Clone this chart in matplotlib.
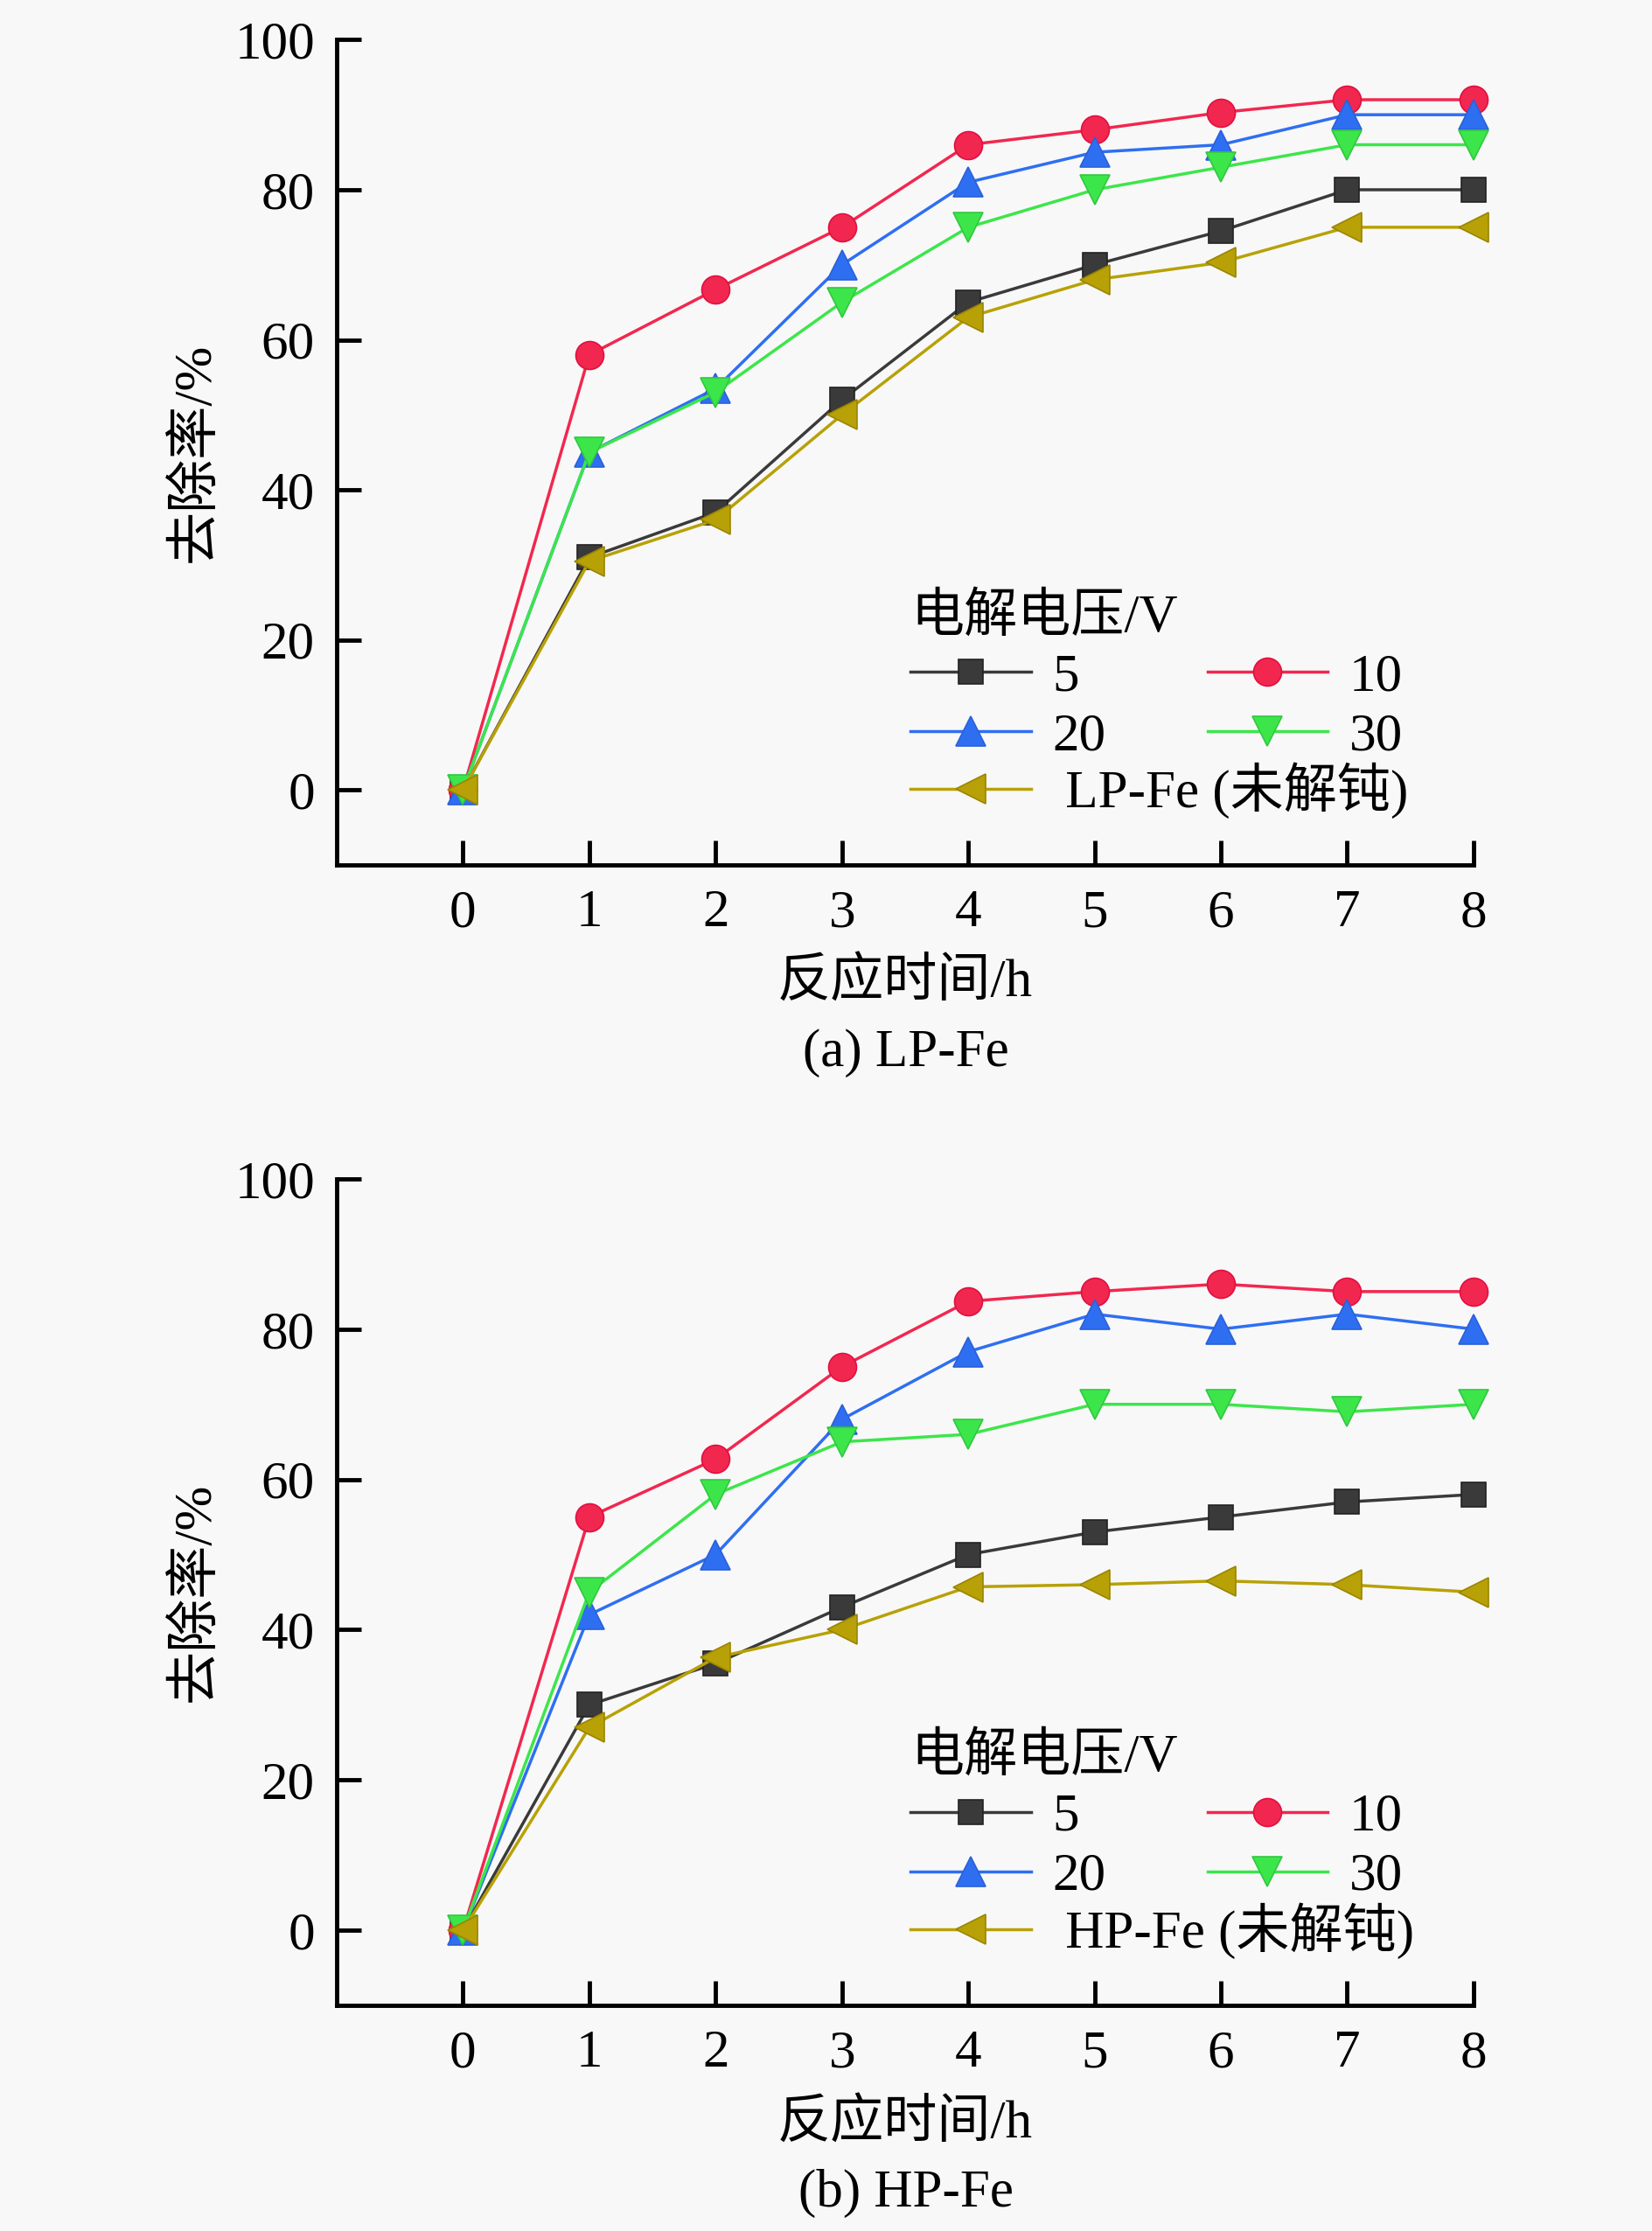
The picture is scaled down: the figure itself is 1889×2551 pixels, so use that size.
import matplotlib
matplotlib.use('Agg')
import matplotlib.pyplot as plt

plt.rcParams['font.family'] = ['Liberation Serif', 'Noto Sans CJK SC', 'DejaVu Sans']
plt.rcParams['axes.unicode_minus'] = False

# reaction time (h)
hours = [0, 1, 2, 3, 4, 5, 6, 7, 8]

# (a) LP-Fe, removal rate %
lp_5 = [0, 31, 37, 52, 65, 70, 74.5, 80, 80]
lp_10 = [0, 58, 66.7, 75, 86, 88, 90.3, 92, 92]
lp_20 = [0, 45, 53.5, 70, 81, 85, 86, 90, 90]
lp_30 = [0, 45, 53, 65, 75, 80, 83, 86, 86]
lp_raw = [0, 30.5, 36, 50, 63, 68, 70.3, 75, 75]

# (b) HP-Fe, removal rate %
hp_5 = [0, 30, 35.5, 43, 50, 53, 55, 57, 58]
hp_10 = [0, 55, 62.7, 75, 83.7, 85, 86, 85, 85]
hp_20 = [0, 42, 50, 68, 77, 82, 80, 82, 80]
hp_30 = [0, 45, 58, 65, 66, 70, 70, 69, 70]
hp_raw = [0, 27, 36.3, 40, 45.7, 46, 46.5, 46, 45]

voltage_labels = ['5', '10', '20', '30']
y_ticks = [0, 20, 40, 60, 80, 100]

BG = '#f8f8f8'
FS = 44
styles = [
    dict(color='#3a3a3a', marker='s', ms=20, mec='#222222'),
    dict(color='#f2274f', marker='o', ms=23, mec='#e01040'),
    dict(color='#2e6ff2', marker='^', ms=25, mec='#2a60d8'),
    dict(color='#3ce64a', marker='v', ms=25, mec='#30c840'),
    dict(color='#b8a106', marker='<', ms=25, mec='#9a8500'),
]


def draw_panel(ax, series, raw_label):
    handles = []
    for vals, st in zip(series, styles):
        h, = ax.plot(hours, vals, color=st['color'], lw=2.5, marker=st['marker'],
                     markersize=st['ms'], markerfacecolor=st['color'],
                     markeredgecolor=st['mec'], markeredgewidth=1.2, clip_on=False)
        handles.append(h)

    ax.set_facecolor(BG)
    ax.set_xlim(-1, 8)
    ax.set_ylim(-10, 100)
    ax.set_xticks(hours)
    ax.set_yticks(y_ticks)
    for s in ['top', 'right']:
        ax.spines[s].set_visible(False)
    for s in ['left', 'bottom']:
        ax.spines[s].set_linewidth(3.5)
    ax.tick_params(axis='both', direction='in', length=20, width=3.5, labelsize=FS)
    ax.tick_params(axis='x', pad=20)
    ax.tick_params(axis='y', pad=18)

    ax.set_xlabel('反应时间/h', fontsize=FS)
    ax.xaxis.set_label_coords(0.5, -0.1135)
    ax.set_ylabel('去除率/%', fontsize=FS)
    ax.yaxis.set_label_coords(-0.102, 0.5)

    # legend: 2 columns for the voltages, extra row for the untreated iron
    leg1 = ax.legend([handles[0], handles[2], handles[1], handles[3]],
                     [voltage_labels[0], voltage_labels[2], voltage_labels[1], voltage_labels[3]],
                     ncol=2, title='电解电压/V', title_fontsize=FS, fontsize=FS,
                     loc='upper left', bbox_to_anchor=(0.505, 0.33), frameon=False,
                     handlelength=2.25, handletextpad=0.4, columnspacing=1.9,
                     labelspacing=0.2, borderpad=0, borderaxespad=0, alignment='left')
    ax.add_artist(leg1)
    ax.legend([handles[4]], [raw_label], fontsize=FS, loc='upper left',
              bbox_to_anchor=(0.505, 0.1245), frameon=False, handlelength=2.25,
              handletextpad=0.4, borderpad=0, borderaxespad=0)


fig = plt.figure(figsize=(18.9, 25.51), dpi=100, facecolor=BG)
ax1 = fig.add_axes([0.2037, 0.6123, 0.6878, 0.3699])
ax2 = fig.add_axes([0.2037, 0.1011, 0.6878, 0.3705])

draw_panel(ax1, [lp_5, lp_10, lp_20, lp_30, lp_raw], ' LP-Fe (未解钝)')
draw_panel(ax2, [hp_5, hp_10, hp_20, hp_30, hp_raw], ' HP-Fe (未解钝)')

fig.text(0.5483, 1 - 1204 / 2551, '(a) LP-Fe', ha='center', va='center', fontsize=FS)
fig.text(0.5483, 1 - 2508 / 2551, '(b) HP-Fe', ha='center', va='center', fontsize=FS)

fig.savefig('out.png', dpi=100, facecolor=BG)
